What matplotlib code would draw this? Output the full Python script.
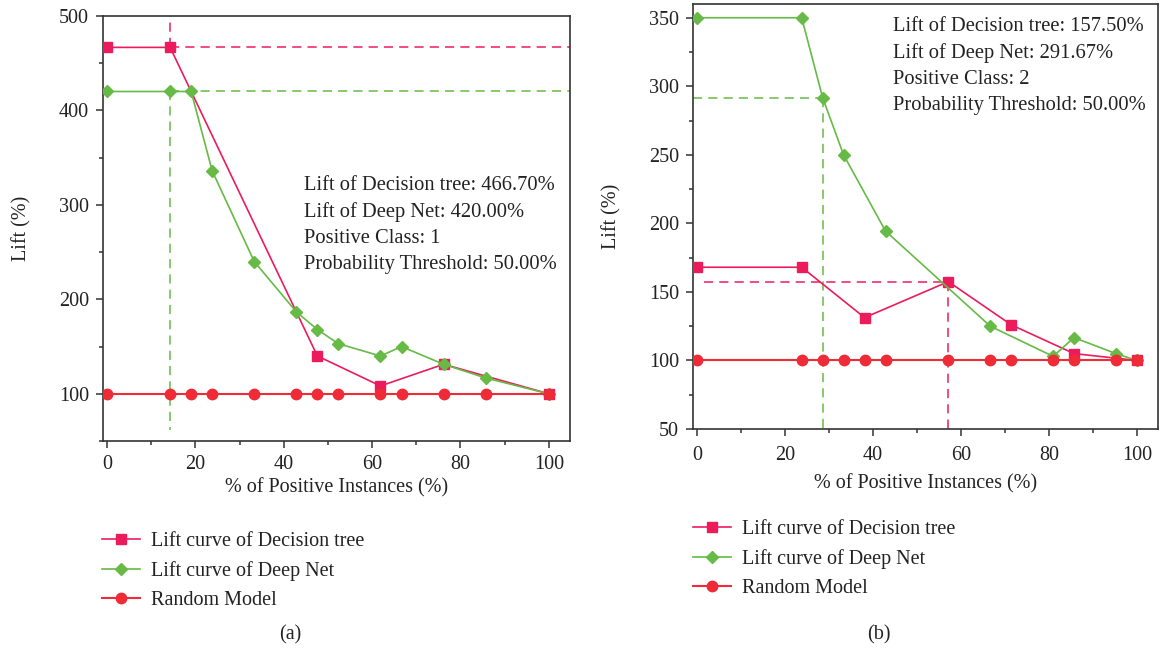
import matplotlib
matplotlib.use("Agg")
import matplotlib.pyplot as plt
from matplotlib.ticker import MultipleLocator

plt.rcParams["font.family"] = ["Liberation Serif", "DejaVu Serif"]

DT_COLOR = "#EC1C5C"
NET_COLOR = "#66BA45"
RAND_COLOR = "#EE2B36"
SPINE_COLOR = "#333333"
TEXT_COLOR = "#222222"

# (a) positive class 1
rand_a_x = [0, 14.29, 19.05, 23.81, 33.33, 42.86, 47.62, 52.38, 61.90, 66.67, 76.19, 85.71, 100]
dt_a_x = [0, 14.29, 47.62, 61.90, 76.19, 100]
dt_a_y = [466.7, 466.7, 140, 108.3, 131.25, 100]
net_a_x = [0, 14.29, 19.05, 23.81, 33.33, 42.86, 47.62, 52.38, 61.90, 66.67, 76.19, 85.71, 100]
net_a_y = [420, 420, 420, 336, 240, 186.7, 168, 153, 140, 150, 131.25, 116.7, 100]
lift_dt_a, cut_dt_a = 466.70, 14.29
lift_net_a, cut_net_a = 420.00, 14.29

# (b) positive class 2
rand_b_x = [0, 23.81, 28.57, 33.33, 38.10, 42.86, 57.14, 66.67, 71.43, 80.95, 85.71, 95.24, 100]
dt_b_x = [0, 23.81, 38.10, 57.14, 71.43, 85.71, 100]
dt_b_y = [168, 168, 131.25, 157.5, 126, 105, 100]
net_b_x = [0, 23.81, 28.57, 33.33, 42.86, 66.67, 80.95, 85.71, 95.24, 100]
net_b_y = [350, 350, 291.67, 250, 194.4, 125, 103, 116.67, 105, 100]
lift_dt_b, cut_dt_b = 157.50, 57.14
lift_net_b, cut_net_b = 291.67, 28.57

threshold = 50.00
labels = ["Lift curve of Decision tree", "Lift curve of Deep Net", "Random Model"]


def style_axes(ax, ylim, ymajor, yminor, xpad, xlabelpad):
    ax.set_xlim(-0.9, 104.8)
    ax.set_ylim(*ylim)
    ax.xaxis.set_major_locator(MultipleLocator(20))
    ax.xaxis.set_minor_locator(MultipleLocator(10))
    ax.yaxis.set_major_locator(MultipleLocator(ymajor))
    ax.yaxis.set_minor_locator(MultipleLocator(yminor))
    ax.tick_params(which="both", direction="out", colors=SPINE_COLOR,
                   labelcolor=TEXT_COLOR, labelsize=14.5, width=1.1)
    ax.tick_params(which="major", length=5)
    ax.tick_params(which="minor", length=3)
    ax.tick_params(axis="x", pad=xpad)
    ax.tick_params(axis="y", pad=5)
    for s in ax.spines.values():
        s.set_color(SPINE_COLOR)
        s.set_linewidth(1.2)
    ax.set_xlabel("% of Positive Instances (%)", fontsize=14.5, color=TEXT_COLOR,
                  labelpad=xlabelpad)
    ax.set_ylabel("Lift (%)", fontsize=14.5, color=TEXT_COLOR, labelpad=20)


def draw_curves(ax, dt_x, dt_y, net_x, net_y, rand_x):
    h1, = ax.plot(dt_x, dt_y, color=DT_COLOR, lw=1.2, marker="s", ms=6.5, zorder=3)
    h2, = ax.plot(net_x, net_y, color=NET_COLOR, lw=1.2, marker="D", ms=6.5, zorder=4)
    h3, = ax.plot(rand_x, [100] * len(rand_x), color=RAND_COLOR, lw=1.5,
                  marker="o", ms=7.5, zorder=5)
    return [h1, h2, h3]


def info_text(ax, y, lift_dt, lift_net, pos_class):
    ax.text(44.5, y, f"Lift of Decision tree: {lift_dt:.2f}%\n"
            f"Lift of Deep Net: {lift_net:.2f}%\n"
            f"Positive Class: {pos_class}\n"
            f"Probability Threshold: {threshold:.2f}%",
            fontsize=14.8, color=TEXT_COLOR, va="top", ha="left", linespacing=1.5)


fig = plt.figure(figsize=(11.6, 6.5), dpi=100)
ax1 = fig.add_axes([0.0888, 0.3215, 0.4026, 0.654])
ax2 = fig.add_axes([0.5974, 0.34, 0.4009, 0.6538])

dash = (0, (6, 4))

# panel (a)
style_axes(ax1, (50, 500), 100, 50, xpad=5, xlabelpad=3)
handles = draw_curves(ax1, dt_a_x, dt_a_y, net_a_x, net_a_y, rand_a_x)
ax1.plot([cut_dt_a, 104.8], [lift_dt_a, lift_dt_a], color=DT_COLOR, lw=1.1, ls=dash, zorder=2)
ax1.plot([cut_dt_a, cut_dt_a], [lift_dt_a, 500], color=DT_COLOR, lw=1.1, ls=dash, zorder=2)
ax1.plot([cut_net_a, 104.8], [lift_net_a, lift_net_a], color=NET_COLOR, lw=1.1, ls=dash, zorder=2)
ax1.plot([cut_net_a, cut_net_a], [lift_net_a, 62], color=NET_COLOR, lw=1.1, ls=dash, zorder=2)
info_text(ax1, 331, lift_dt_a, lift_net_a, 1)

# panel (b)
style_axes(ax2, (50, 360), 50, 25, xpad=7, xlabelpad=7)
draw_curves(ax2, dt_b_x, dt_b_y, net_b_x, net_b_y, rand_b_x)
ax2.plot([-0.9, cut_net_b], [lift_net_b, lift_net_b], color=NET_COLOR, lw=1.1, ls=dash, zorder=2)
ax2.plot([cut_net_b, cut_net_b], [lift_net_b, 50], color=NET_COLOR, lw=1.1, ls=dash, zorder=2)
ax2.plot([1.5, cut_dt_b], [lift_dt_b, lift_dt_b], color=DT_COLOR, lw=1.1, ls=dash, zorder=2)
ax2.plot([cut_dt_b, cut_dt_b], [lift_dt_b, 50], color=DT_COLOR, lw=1.1, ls=dash, zorder=2)
info_text(ax2, 350.5, lift_dt_b, lift_net_b, 2)

for anchor in [(0.088, 0.122), (0.597, 0.14)]:
    fig.legend(handles, labels, loc="center left", bbox_to_anchor=anchor,
               frameon=False, fontsize=14.5, handlelength=1.9, handletextpad=0.55,
               labelspacing=0.5, borderaxespad=0, borderpad=0, labelcolor=TEXT_COLOR)

fig.text(0.25, 0.016, "(a)", fontsize=14.5, ha="center", color=TEXT_COLOR)
fig.text(0.758, 0.016, "(b)", fontsize=14.5, ha="center", color=TEXT_COLOR)

fig.savefig("out.png", dpi=100)
